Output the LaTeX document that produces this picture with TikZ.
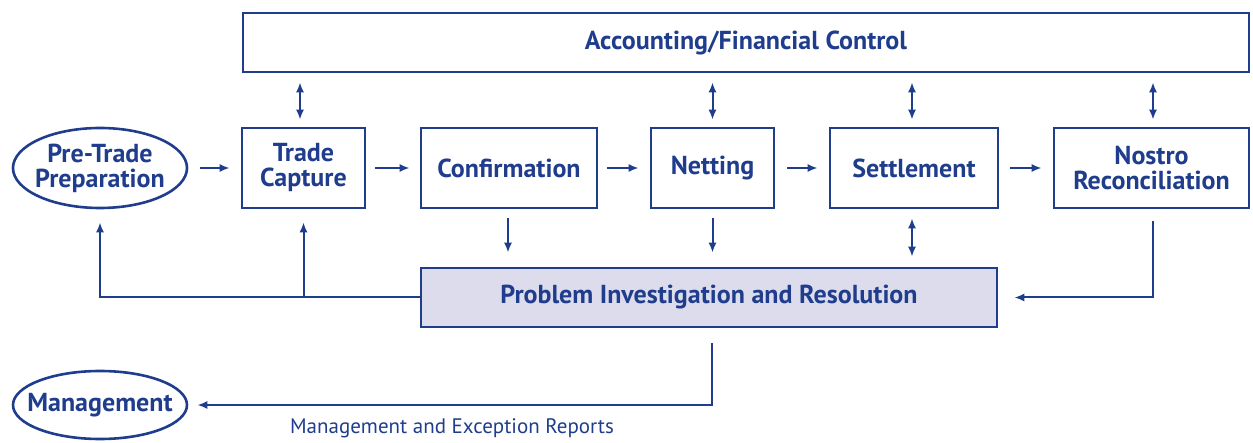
\documentclass[tikz,border=0pt]{standalone}
\usepackage{fontspec}
\setmainfont{PT Sans}
\usetikzlibrary{arrows.meta,shapes.geometric}
\definecolor{navy}{HTML}{1F3D8C}
\definecolor{lav}{HTML}{DCDCEC}
\tikzset{
  txt/.style={text=navy,font=\fontsize{26}{25}\selectfont\bfseries,align=center,inner sep=0pt},
  box/.style={txt,draw=navy,line width=2.6pt,rectangle},
  oval/.style={draw=navy,line width=2.6pt,ellipse,inner sep=0pt},
  arr/.style={draw=navy,line width=2pt,-{Latex[length=10pt,width=8pt]}},
  darr/.style={draw=navy,line width=2pt,{Latex[length=10pt,width=8pt]}-{Latex[length=10pt,width=8pt]}},
}
\begin{document}
\begin{tikzpicture}[x=1pt,y=-1pt]
\useasboundingbox (0,0) rectangle (1253,443);
\node[box,minimum width=1006pt,minimum height=59pt] (acc) at (746,42.5) {Accounting/Financial Control};
\node[oval,minimum width=174pt,minimum height=80pt] (pre) at (100,168) {};
\node[txt] (pretxt) at (pre.center) {Pre-Trade\\Preparation};
\node[box,minimum width=123pt,minimum height=80pt] (tc) at (303.5,168) {Trade\\Capture};
\node[box,minimum width=176pt,minimum height=80pt] (conf) at (509,168) {Confirmation};
\node[box,minimum width=123pt,minimum height=80pt] (net) at (712.5,168) {Netting};
\node[box,minimum width=168pt,minimum height=80pt] (set) at (914,168) {Settlement};
\node[box,minimum width=195pt,minimum height=80pt] (nos) at (1151.5,168) {Nostro\\Reconciliation};
\node[box,fill=lav,minimum width=576pt,minimum height=59pt] (prob) at (709,297.5) {Problem Investigation and Resolution};
\node[oval,minimum width=174pt,minimum height=68pt] (mgmt) at (100,405) {};
\node[txt] (mgmttxt) at (mgmt.center) {Management};
\node[text=navy,font=\fontsize{21}{23}\selectfont,anchor=center] (lbl) at (452,428) {Management and Exception Reports};
% horizontal flow
\draw[arr,shorten <=12pt,shorten >=11pt] (pre.east) -- (tc.west |- pre.east);
\draw[arr,shorten <=9pt,shorten >=10pt] (tc.east) -- (conf.west |- tc.east);
\draw[arr,shorten <=9pt,shorten >=11pt] (conf.east) -- (net.west |- conf.east);
\draw[arr,shorten <=12pt,shorten >=11pt] (net.east |- conf.east) -- (set.west |- conf.east);
\draw[arr,shorten <=11pt,shorten >=11pt] (set.east) -- (nos.west |- set.east);
% top double arrows
\draw[darr,shorten <=7pt,shorten >=9pt] ([xshift=-3.5pt]tc.north) -- ([xshift=-3.5pt]tc.north |- acc.south);
\draw[darr,shorten <=7pt,shorten >=9pt] (net.north) -- (net.north |- acc.south);
\draw[darr,shorten <=7pt,shorten >=9pt] ([xshift=-2pt]set.north) -- ([xshift=-2pt]set.north |- acc.south);
\draw[darr,shorten <=7pt,shorten >=9pt] ([xshift=1.5pt]nos.north) -- ([xshift=1.5pt]nos.north |- acc.south);
% down arrows
\draw[arr,shorten <=9pt,shorten >=14pt] ([xshift=-1pt]conf.south) -- ([xshift=-1pt]conf.south |- prob.north);
\draw[arr,shorten <=9pt,shorten >=14pt] (net.south) -- (net.south |- prob.north);
\draw[darr,shorten <=9pt,shorten >=10pt] ([xshift=-2pt]set.south) -- ([xshift=-2pt]set.south |- prob.north);
% feedback to left
\draw[arr,shorten >=13pt] (prob.west) -| (pre.south);
\draw[arr,shorten >=13pt] (prob.west -| tc.south) -- (tc.south);
% nostro to problem
\draw[arr,shorten <=12pt,shorten >=16pt] ([xshift=1.5pt]nos.south) |- (prob.east);
% reports
\draw[arr,shorten <=15pt,shorten >=9pt] ([xshift=3pt]prob.south) |- (mgmt.east);
\end{tikzpicture}
\end{document}
